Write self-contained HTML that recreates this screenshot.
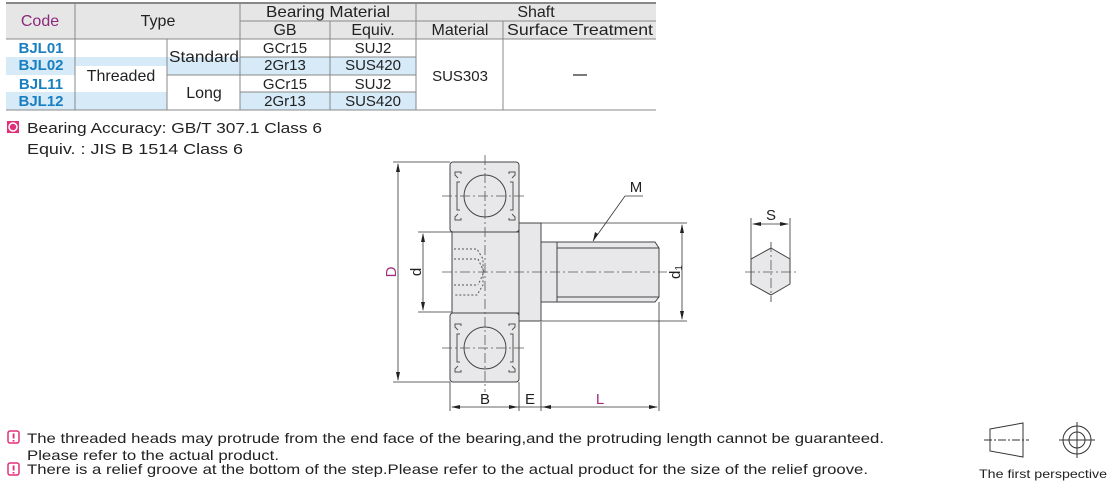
<!DOCTYPE html>
<html><head><meta charset="utf-8"><style>
body{margin:0;background:#fff;}
svg{display:block;font-family:"Liberation Sans",Arial,sans-serif;}
</style></head><body>
<svg width="1110" height="484" viewBox="0 0 1110 484" xmlns="http://www.w3.org/2000/svg">
<rect x="6" y="3" width="650" height="36" fill="#e6e6e6"/>
<rect x="6" y="57" width="234" height="18" fill="#d6eaf8"/>
<rect x="240" y="57" width="176" height="18" fill="#d6eaf8"/>
<rect x="6" y="92" width="234" height="18" fill="#d6eaf8"/>
<rect x="240" y="92" width="176" height="18" fill="#d6eaf8"/>
<rect x="75" y="66" width="92" height="20" fill="#fff"/>
<rect x="167" y="75" width="73" height="35" fill="#fff"/>
<g stroke="#888" stroke-width="1" fill="none">
<line x1="6" y1="3" x2="656" y2="3" stroke-width="2"/>
<line x1="6" y1="39" x2="656" y2="39"/>
<line x1="240" y1="21" x2="656" y2="21"/>
<line x1="6" y1="110" x2="656" y2="110"/>
<line x1="240" y1="57" x2="416" y2="57"/>
<line x1="240" y1="75" x2="416" y2="75"/>
<line x1="240" y1="92" x2="416" y2="92"/>
<line x1="167" y1="75" x2="240" y2="75"/>
<line x1="75" y1="3" x2="75" y2="110"/>
<line x1="167" y1="39" x2="167" y2="110"/>
<line x1="240" y1="3" x2="240" y2="110"/>
<line x1="330" y1="21" x2="330" y2="110"/>
<line x1="416" y1="3" x2="416" y2="110"/>
<line x1="503" y1="21" x2="503" y2="110"/>
</g>
<g font-size="16" fill="#222" text-anchor="middle">
<text x="40" y="26" fill="#8b2a7a">Code</text>
<text x="158" y="26">Type</text>
<text x="328" y="17" textLength="124" lengthAdjust="spacingAndGlyphs">Bearing Material</text>
<text x="536" y="17">Shaft</text>
<text x="285" y="35">GB</text>
<text x="373" y="35">Equiv.</text>
<text x="460" y="35">Material</text>
<text x="580" y="35" textLength="146" lengthAdjust="spacingAndGlyphs">Surface Treatment</text>
<g font-weight="bold" fill="#1a7fc0" font-size="15"><text x="41" y="53">BJL01</text><text x="41" y="70">BJL02</text><text x="41" y="89">BJL11</text><text x="41" y="106">BJL12</text></g>
<text x="121" y="81">Threaded</text>
<text x="204" y="62" textLength="70" lengthAdjust="spacingAndGlyphs">Standard</text>
<text x="204" y="98">Long</text>
<g font-size="15">
<text x="285" y="53">GCr15</text><text x="373" y="53">SUJ2</text>
<text x="285" y="70">2Gr13</text><text x="373" y="70">SUS420</text>
<text x="285" y="89">GCr15</text><text x="373" y="89">SUJ2</text>
<text x="285" y="106">2Gr13</text><text x="373" y="106">SUS420</text>
<text x="460" y="81">SUS303</text>
</g>
</g>
<line x1="573" y1="75" x2="587" y2="75" stroke="#222" stroke-width="1.2"/>
<rect x="7" y="121" width="12" height="12" fill="#e0307a"/>
<circle cx="13" cy="127" r="4" fill="none" stroke="#fff" stroke-width="1.5"/>
<text x="27" y="133" font-size="15" fill="#222" textLength="295" lengthAdjust="spacingAndGlyphs">Bearing Accuracy:  GB/T 307.1 Class 6</text>
<text x="27" y="154" font-size="15" fill="#222" textLength="216" lengthAdjust="spacingAndGlyphs">Equiv. : JIS  B 1514   Class 6</text>

<g stroke="#444" stroke-width="1" fill="#e8e8ea">
<rect x="450" y="162" width="69" height="70" rx="3"/>
<rect x="450" y="313" width="69" height="69" rx="3"/>
<rect x="452" y="232" width="67" height="81"/>
<rect x="519" y="223" width="22" height="98"/>
<rect x="541" y="242" width="16" height="60"/>
<path d="M557 242 H655 L659 248 V297 L655 302 H557 Z"/>
<line x1="557" y1="248" x2="659" y2="248"/><line x1="557" y1="297" x2="659" y2="297"/>
<circle cx="485" cy="196" r="21"/><circle cx="485" cy="348" r="21"/>
</g>
<g stroke="#555" fill="none" stroke-width="1">
<path d="M458 178 l-3 -3 v-3 h6 v2 M512 178 l3 -3 v-3 h-6 v2 M458 214 l-3 3 v3 h6 v-2 M512 214 l3 3 v3 h-6 v-2"/>
<path d="M460 182 h-3 v28 h3 M510 182 h3 v28 h-3"/>
<path d="M458 330 l-3 -3 v-3 h6 v2 M512 330 l3 -3 v-3 h-6 v2 M458 366 l-3 3 v3 h6 v-2 M512 366 l3 3 v3 h-6 v-2"/>
<path d="M460 334 h-3 v28 h3 M510 334 h3 v28 h-3"/>
<path d="M454 249 h23 l6 10 v26 l-6 10 h-23 M454 259 h24 M454 285 h24 M478 259 l6 13 l-6 13" stroke-dasharray="2 2"/>
</g>
<g stroke="#555" stroke-width="0.8" fill="none" stroke-dasharray="10 3 2 3">
<line x1="442" y1="272" x2="667" y2="272"/>
<line x1="485" y1="155" x2="485" y2="392"/>
<line x1="442" y1="196" x2="527" y2="196"/><line x1="442" y1="348" x2="527" y2="348"/>
<line x1="771" y1="242" x2="771" y2="302"/>
</g>
<g stroke="#333" stroke-width="0.8" fill="none">
<line x1="393" y1="162" x2="450" y2="162"/><line x1="393" y1="382" x2="450" y2="382"/>
<line x1="398" y1="164" x2="398" y2="380"/>
<line x1="418" y1="232" x2="452" y2="232"/><line x1="418" y1="312" x2="452" y2="312"/>
<line x1="423" y1="234" x2="423" y2="310"/>
<line x1="541" y1="223" x2="687" y2="223"/><line x1="541" y1="321" x2="687" y2="321"/>
<line x1="682" y1="225" x2="682" y2="319"/>
<line x1="450" y1="382" x2="450" y2="411"/><line x1="519" y1="382" x2="519" y2="411"/>
<line x1="541" y1="322" x2="541" y2="411"/><line x1="659" y1="302" x2="659" y2="411"/>
<line x1="452" y1="407" x2="657" y2="407"/>
<line x1="593" y1="241" x2="625" y2="196"/><line x1="625" y1="196" x2="643" y2="196"/>
<line x1="751" y1="218" x2="751" y2="262"/><line x1="790" y1="218" x2="790" y2="262"/>
<line x1="753" y1="224" x2="788" y2="224"/>
</g>
<g fill="#222">
<path d="M398 163 l-2 9 h4z M398 381 l-2 -9 h4z M423 233 l-2 9 h4z M423 311 l-2 -9 h4z M682 224 l-2 9 h4z M682 320 l-2 -9 h4z"/>
<path d="M451 407 l9 -2 v4z M518 407 l-9 -2 v4z M542 407 l9 -2 v4z M658 407 l-9 -2 v4z M593 241 l2 -9 l3 2z M752 224 l9 -2 v4z M789 224 l-9 -2 v4z"/>
</g>
<path d="M771 248 L790 259 V284 L771 295 L751 284 V259 Z" fill="#e8e8ea" stroke="#444" stroke-width="1"/>
<line x1="745" y1="272" x2="797" y2="272" stroke="#555" stroke-width="0.8" stroke-dasharray="10 3 2 3"/>
<line x1="771" y1="242" x2="771" y2="302" stroke="#555" stroke-width="0.8" stroke-dasharray="10 3 2 3"/>
<g font-size="15">
<text x="396" y="272" fill="#a0307a" transform="rotate(-90 396 272)" text-anchor="middle">D</text>
<text x="421" y="272" fill="#222" transform="rotate(-90 421 272)" text-anchor="middle">d</text>
<text x="680" y="272" fill="#222" transform="rotate(-90 680 272)" text-anchor="middle">d<tspan font-size="10" dy="2">1</tspan></text>
<text x="485" y="404" fill="#222" text-anchor="middle">B</text>
<text x="530" y="404" fill="#222" text-anchor="middle">E</text>
<text x="600" y="404" fill="#a0307a" text-anchor="middle">L</text>
<text x="636" y="192" fill="#222" text-anchor="middle">M</text>
<text x="771" y="220" fill="#222" text-anchor="middle">S</text>
</g>
<g fill="none" stroke="#e0307a" stroke-width="1.5">
<rect x="8" y="431" width="11" height="12" rx="2"/><rect x="8" y="463" width="11" height="12" rx="2"/>
</g>
<g fill="#e0307a"><rect x="12.7" y="433.5" width="1.8" height="5"/><rect x="12.7" y="440" width="1.8" height="1.6"/><rect x="12.7" y="465.5" width="1.8" height="5"/><rect x="12.7" y="472" width="1.8" height="1.6"/></g>
<g font-size="14" fill="#222">
<text x="27" y="443" textLength="857" lengthAdjust="spacingAndGlyphs">The threaded heads may protrude from the end face of the bearing,and the protruding length cannot be guaranteed.</text>
<text x="27" y="460" textLength="252" lengthAdjust="spacingAndGlyphs">Please refer to the actual product.</text>
<text x="27" y="474" textLength="841" lengthAdjust="spacingAndGlyphs">There is a relief groove at the bottom of the step.Please refer to the actual product for the size of the relief groove.</text>
</g>
<g stroke="#333" stroke-width="1" fill="none">
<path d="M990 429 L1023 423 V457 L990 451 Z"/>
<line x1="984" y1="440" x2="1029" y2="440" stroke-dasharray="8 2 2 2"/>
<circle cx="1077" cy="440" r="14"/><circle cx="1077" cy="440" r="8"/>
<line x1="1059" y1="440" x2="1095" y2="440"/><line x1="1077" y1="422" x2="1077" y2="458"/>
</g>
<text x="979" y="478" font-size="12" fill="#222" textLength="128" lengthAdjust="spacingAndGlyphs">The first perspective</text>
</svg>
</body></html>
